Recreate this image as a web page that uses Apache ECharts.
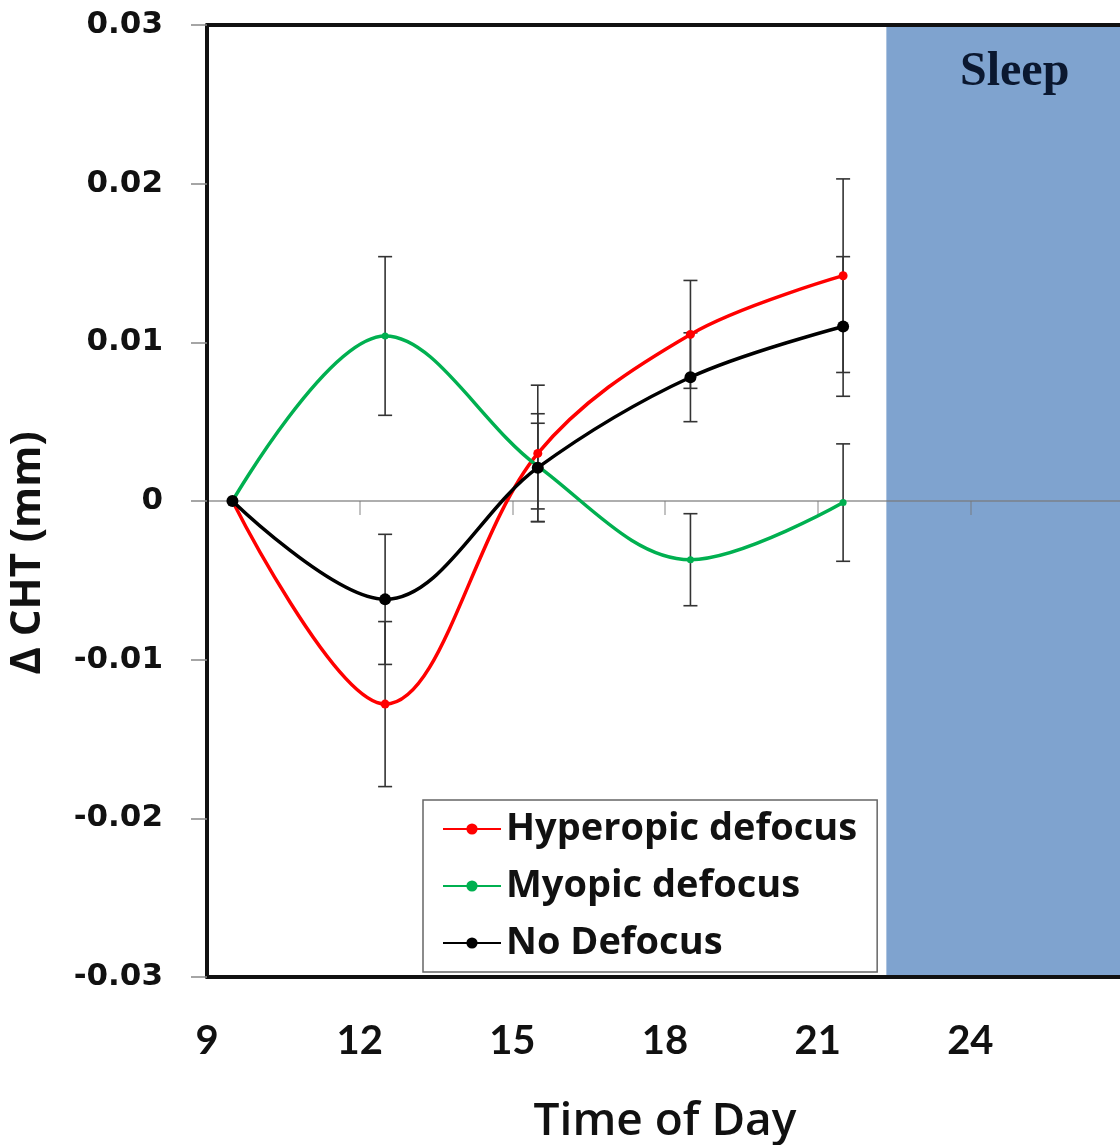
<!DOCTYPE html>
<html><head><meta charset="utf-8">
<script src="https://cdn.jsdelivr.net/npm/echarts@6/dist/echarts.min.js"></script>
<style>html,body{margin:0;padding:0;background:#fff}#c{width:1120px;height:1145px}</style>
</head><body><div id="c"></div>
<script>
// ---- data ----
const times = [9.5, 12.5, 15.5, 18.5, 21.5];
const hyperopic = [0, -0.0128, 0.0030, 0.0105, 0.0142];
const hyperopicErr = [0, 0.0052, 0.0043, 0.0034, 0.0061];
const myopic = [0, 0.0104, 0.0022, -0.0037, -0.0001];
const myopicErr = [0, 0.0050, 0.0027, 0.0029, 0.0037];
const noDefocus = [0, -0.0062, 0.0021, 0.0078, 0.0110];
const noDefocusErr = [0, 0.0041, 0.0034, 0.0028, 0.0044];
const seriesNames = ['Hyperopic defocus', 'Myopic defocus', 'No Defocus'];
const sleepStart = 22.35, sleepEnd = 27;
const xMin = 9, xMax = 27, xStep = 3;
const yMin = -0.03, yMax = 0.03, yStep = 0.01;

const chart = echarts.init(document.getElementById('c'), null, {renderer: 'canvas'});

function errSeries(name, vals, errs) {
  return {
    type: 'custom', name: name + ' err', z: 3, silent: true,
    data: times.map((t, i) => [t, vals[i] - errs[i], vals[i] + errs[i]]),
    encode: {x: 0, y: [1, 2]},
    renderItem(params, api) {
      if (api.value(2) === api.value(1)) return;
      const lo = api.coord([api.value(0), api.value(1)]);
      const hi = api.coord([api.value(0), api.value(2)]);
      const w = 7;
      const style = {stroke: '#333', lineWidth: 1.6};
      return {type: 'group', children: [
        {type: 'line', shape: {x1: lo[0], y1: lo[1], x2: hi[0], y2: hi[1]}, style},
        {type: 'line', shape: {x1: lo[0] - w, y1: lo[1], x2: lo[0] + w, y2: lo[1]}, style},
        {type: 'line', shape: {x1: hi[0] - w, y1: hi[1], x2: hi[0] + w, y2: hi[1]}, style}
      ]};
    }
  };
}
function lineSeries(name, vals, color, size) {
  return {
    type: 'line', name, z: 4, smooth: 0.35,
    data: times.map((t, i) => [t, vals[i]]),
    symbol: 'circle', symbolSize: size,
    lineStyle: {color, width: 3.5},
    itemStyle: {color},
    emphasis: {disabled: true}
  };
}

const baseX = {type: 'value', min: xMin, max: xMax, interval: xStep, splitLine: {show: false}};

chart.setOption({
  animation: false,
  grid: {left: 207, right: -3, top: 25, bottom: 168, outerBoundsMode: 'none', containLabel: false},
  xAxis: [
    Object.assign({}, baseX, {
      position: 'bottom', z: 10,
      axisLine: {onZero: false, lineStyle: {color: '#111', width: 4}},
      axisTick: {show: false},
      axisLabel: {margin: 44, showMaxLabel: false, color: '#111',
        fontFamily: 'Lato', fontWeight: 700, fontSize: 40},
      name: 'Time of Day', nameLocation: 'middle', nameGap: 122,
      nameTextStyle: {fontFamily: 'Open Sans', fontWeight: 600, fontSize: 46, color: '#111'}
    }),
    Object.assign({}, baseX, {
      position: 'bottom', z: 1.5,
      axisLine: {onZero: true, onZeroAxisIndex: 0, lineStyle: {color: 'rgba(120,120,120,0.6)', width: 2}},
      axisTick: {show: true, length: 14, lineStyle: {color: 'rgba(120,120,120,0.6)', width: 1.5}},
      axisLabel: {show: false}
    }),
    Object.assign({}, baseX, {
      position: 'top', z: 10,
      axisLine: {onZero: false, lineStyle: {color: '#111', width: 4}},
      axisTick: {show: false}, axisLabel: {show: false}
    })
  ],
  yAxis: {
    type: 'value', min: yMin, max: yMax, interval: yStep, z: 10,
    splitLine: {show: false},
    axisLine: {show: true, onZero: false, lineStyle: {color: '#111', width: 4}},
    axisTick: {show: true, length: 16, lineStyle: {color: '#888', width: 1.5}},
    axisLabel: {margin: 44, color: '#111', fontFamily: 'DejaVu Sans', fontWeight: 700, fontSize: 31,
      formatter: v => (Math.abs(v) < 1e-9 ? '0' : v.toFixed(2))},
    name: 'Δ CHT (mm)', nameLocation: 'middle', nameGap: 158,
    nameTextStyle: {fontFamily: 'Open Sans', fontWeight: 700, fontSize: 42, color: '#111', padding: [0, 104, 0, 0]}
  },
  legend: {
    data: seriesNames, orient: 'vertical', left: 423, top: 800,
    padding: [9, 20, 9, 19], itemGap: 17, itemWidth: 58, itemHeight: 14,
    backgroundColor: '#fff', borderColor: '#666', borderWidth: 1.5, borderRadius: 0,
    textStyle: {fontFamily: 'Open Sans', fontWeight: 700, fontSize: 38, color: '#111', lineHeight: 40},
    selectedMode: false, z: 20
  },
  series: [
    {
      type: 'line', name: 'sleep', data: [], z: 1, silent: true,
      markArea: {
        silent: true,
        itemStyle: {color: '#7fa3cf'},
        label: {show: true, position: 'insideTop', distance: 24, offset: [10, 0],
          fontFamily: 'Liberation Serif', fontWeight: 700, fontSize: 48, color: '#0b1830'},
        data: [[{name: 'Sleep', xAxis: sleepStart, yAxis: yMax}, {xAxis: sleepEnd, yAxis: yMin}]]
      }
    },
    errSeries('h', hyperopic, hyperopicErr),
    errSeries('m', myopic, myopicErr),
    errSeries('n', noDefocus, noDefocusErr),
    lineSeries(seriesNames[0], hyperopic, '#ff0000', 9),
    lineSeries(seriesNames[1], myopic, '#00b050', 7),
    lineSeries(seriesNames[2], noDefocus, '#000000', 12)
  ]
});
</script></body></html>
